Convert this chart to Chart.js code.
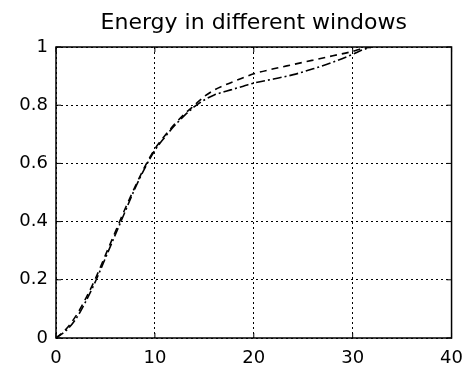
<!DOCTYPE html>
<html>
<head>
<meta charset="utf-8">
<script src="https://cdn.jsdelivr.net/npm/chart.js@4/dist/chart.umd.min.js"></script>
<style>
html,body{margin:0;padding:0;background:#fff;}
#wrap{width:473px;height:367px;}
</style>
</head>
<body>
<div id="wrap"><canvas id="c" width="473" height="367"></canvas></div>
<script>
const titleText = "Energy in different windows";
const xValues = [0,1,2,3,4,5,6,7,8,9,10,11,12,13,14,15,16,17,18,19,20,22,24,26,28,30,31,32];
const upperSeries = [0,0.03,0.075,0.135,0.205,0.285,0.365,0.445,0.52,0.59,0.65,0.695,0.735,0.77,0.8,0.83,0.852,0.868,0.882,0.895,0.908,0.925,0.94,0.955,0.97,0.985,0.995,1];
const lowerSeries = [0,0.025,0.065,0.125,0.195,0.275,0.355,0.435,0.515,0.585,0.645,0.69,0.73,0.765,0.795,0.818,0.835,0.846,0.856,0.866,0.876,0.89,0.905,0.925,0.948,0.975,0.99,1];
const xTicks = [0,10,20,30,40];
const yTicks = [0,0.2,0.4,0.6,0.8,1];

const toPoints = (ys) => xValues.map((x, i) => ({x: x, y: ys[i]}));

const frame = {
  id: 'frame',
  afterDraw(chart) {
    const {ctx, chartArea: a, scales} = chart;
    ctx.save();
    ctx.strokeStyle = '#000';
    ctx.lineWidth = 1.5;
    ctx.setLineDash([]);
    ctx.strokeRect(a.left, a.top, a.right - a.left, a.bottom - a.top);
    ctx.lineWidth = 1;
    const L = 5;
    ctx.beginPath();
    xTicks.forEach(v => {
      const px = scales.x.getPixelForValue(v);
      ctx.moveTo(px, a.bottom); ctx.lineTo(px, a.bottom - L);
      ctx.moveTo(px, a.top); ctx.lineTo(px, a.top + L);
    });
    yTicks.forEach(v => {
      const py = scales.y.getPixelForValue(v);
      ctx.moveTo(a.left, py); ctx.lineTo(a.left + L, py);
      ctx.moveTo(a.right, py); ctx.lineTo(a.right - L, py);
    });
    ctx.stroke();
    // title centred over the plot area
    ctx.fillStyle = '#000';
    ctx.font = '22px "DejaVu Sans"';
    ctx.textAlign = 'center';
    ctx.textBaseline = 'middle';
    ctx.fillText(titleText, (a.left + a.right) / 2, 23);
    ctx.restore();
  }
};

new Chart(document.getElementById('c'), {
  type: 'line',
  data: {
    datasets: [
      {label: 'upper', data: toPoints(upperSeries), borderColor: '#000', borderWidth: 1.6, borderDash: [7,5], pointRadius: 0, cubicInterpolationMode: 'monotone', fill: false},
      {label: 'lower', data: toPoints(lowerSeries), borderColor: '#000', borderWidth: 1.6, borderDash: [9,3,2,3], pointRadius: 0, cubicInterpolationMode: 'monotone', fill: false}
    ]
  },
  options: {
    responsive: false,
    animation: false,
    devicePixelRatio: 1,
    layout: {padding: {top: 47, right: 20, bottom: 0, left: 0}},
    plugins: {
      legend: {display: false},
      tooltip: {enabled: false},
      title: {display: false}
    },
    scales: {
      x: {
        type: 'linear', min: 0, max: 40,
        afterBuildTicks: (s) => { s.ticks = xTicks.map(v => ({value: v})); },
        afterFit: (s) => { s.height = 29; },
        grid: {color: '#000', lineWidth: 1, drawTicks: false},
        border: {display: false, dash: [2,3]},
        ticks: {color: '#000', padding: 10, font: {family: 'DejaVu Sans', size: 18}, maxRotation: 0}
      },
      y: {
        type: 'linear', min: 0, max: 1,
        afterBuildTicks: (s) => { s.ticks = yTicks.map(v => ({value: v})); },
        afterFit: (s) => { s.width = 56; },
        grid: {color: '#000', lineWidth: 1, drawTicks: false},
        border: {display: false, dash: [2,3]},
        ticks: {color: '#000', padding: 8, font: {family: 'DejaVu Sans', size: 18},
          callback: (v) => (v === 0 ? '0' : v === 1 ? '1' : v.toFixed(1))}
      }
    }
  },
  plugins: [frame]
});
</script>
</body>
</html>
